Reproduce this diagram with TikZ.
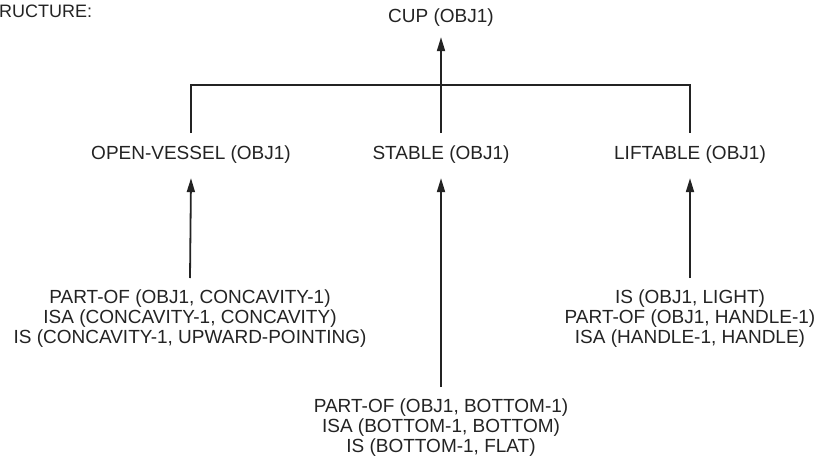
\documentclass[tikz,border=0pt]{standalone}
\usepackage{fontspec}
\setmainfont{Liberation Sans}
\newfontfamily\labfont{Liberation Sans}
\usetikzlibrary{arrows.meta}
\definecolor{ink}{RGB}{35,35,35}
\begin{document}
\begin{tikzpicture}[x=1pt,y=-1pt,
  lbl/.style={font=\labfont\fontsize{19}{20}\selectfont, text=ink, inner sep=0pt, anchor=base},
  blk/.style={font=\labfont\fontsize{19}{20}\selectfont, text=ink, align=center, inner sep=0pt, anchor=north},
  wire/.style={draw=ink, line width=1.8pt},
  conn/.style={wire, -{Triangle[length=14pt,width=8pt]}}]
\useasboundingbox (0,0) rectangle (817,466);
\node[lbl, anchor=base west, font=\labfont\fontsize{18}{20}\selectfont] (title) at (-1,17) {RUCTURE:};
\node[lbl] (cup) at (441,22) {CUP (OBJ1)};
\node[lbl] (ov) at (191,159) {OPEN-VESSEL (OBJ1)};
\node[lbl] (st) at (441,159) {STABLE (OBJ1)};
\node[lbl] (lf) at (690,159) {LIFTABLE (OBJ1)};
\node[blk] (bl) at (190,290) {PART-OF (OBJ1, CONCAVITY-1)\\ISA (CONCAVITY-1, CONCAVITY)\\IS (CONCAVITY-1, UPWARD-POINTING)};
\node[blk] (bm) at (441,399) {PART-OF (OBJ1, BOTTOM-1)\\ISA (BOTTOM-1, BOTTOM)\\IS (BOTTOM-1, FLAT)};
\node[blk] (br) at (690,290) {IS (OBJ1, LIGHT)\\PART-OF (OBJ1, HANDLE-1)\\ISA (HANDLE-1, HANDLE)};
\coordinate (bar) at (441,85);
\draw[conn] ([yshift=12pt]st.north) -- ([yshift=-11pt]cup.south);
\draw[wire] ([yshift=12pt]ov.north) |- (bar) -| ([yshift=12pt]lf.north);
\draw[conn] ([yshift=12pt]bl.north) -- ([yshift=-15pt]ov.south);
\draw[conn] ([yshift=12pt]bm.north) -- ([yshift=-15pt]st.south);
\draw[conn] ([yshift=12pt]br.north) -- ([yshift=-15pt]lf.south);
\end{tikzpicture}
\end{document}
